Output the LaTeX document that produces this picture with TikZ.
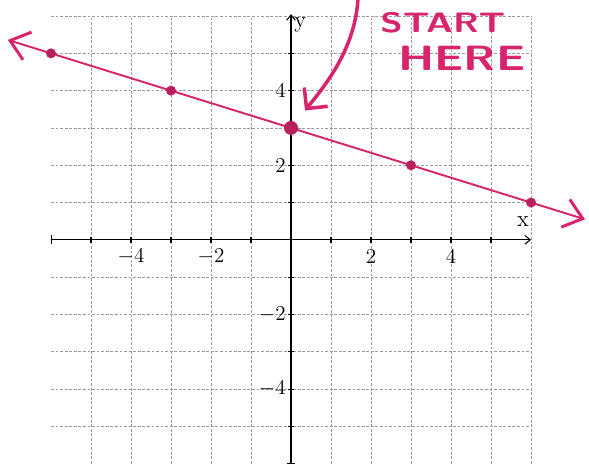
\documentclass[tikz,border=0pt]{standalone}
\usepackage{tikz}
\usetikzlibrary{arrows.meta}
\definecolor{marker}{HTML}{D8246C}
\definecolor{gridgray}{HTML}{9A9A9A}

\begin{document}
\begin{tikzpicture}[x=0.8cm,y=0.746cm,
  gridline/.style={gridgray,dash pattern=on 1.6pt off 1pt,line width=0.45pt},
  axisline/.style={black,line width=0.6pt},
  handline/.style={marker,line width=1.1pt,
    {Straight Barb[length=3.6mm,width=5.8mm,line width=1.7pt]}-{Straight Barb[length=3.6mm,width=5.8mm,line width=1.7pt]}},
  penarrow/.style={marker,line width=2pt,shorten >=3mm,
    -{Straight Barb[length=3mm,width=6mm,line width=2pt]}},
  dot/.style={circle,fill=marker!85!black,inner sep=0pt,minimum size=2mm},
  handtext/.style={marker,xscale=1.3,transform shape}]
  \useasboundingbox (-7.275,-6.06) rectangle (7.45,6.43);
  % grid
  \foreach \x in {-5,...,6}
    \draw[gridline] (\x,-6) -- (\x,6);
  \foreach \y in {-5,...,-1,1,2,...,6}
    \draw[gridline] (-6,\y) -- (6,\y);
  % axes
  \draw[axisline,{Bar[width=5pt]}-{Straight Barb[length=3pt,width=5pt]}] (-6,0) -- (6,0);
  \draw[axisline,{Bar[width=5pt]}-{Straight Barb[length=3pt,width=5pt]}] (0,-6) -- (0,6.05);
  \foreach \x in {-5,...,5}
    \draw[axisline] (\x,0.08) -- (\x,-0.08);
  \foreach \y in {-5,...,5}
    \draw[axisline] (-0.08,\y) -- (0.08,\y);
  \foreach \x in {-4,-2,2,4}
    \node[font=\fontsize{13}{15}\selectfont] (xl\x) at (\x,-0.46) {$\x$};
  \foreach \y in {-4,-2,2,4}
    \node[anchor=east,inner sep=1pt,font=\fontsize{13}{15}\selectfont] (yl\y) at (-0.08,\y) {$\y$};
  \node[font=\fontsize{13}{15}\selectfont] (xname) at (5.8,0.48) {x};
  \node[font=\fontsize{13}{15}\selectfont] (yname) at (0.23,5.76) {y};
  % the line y = 3 - x/3
  \coordinate (lineW) at (-7.08,5.36);
  \coordinate (lineE) at (7.35,0.55);
  \draw[handline] (lineW) -- (lineE);
  \foreach \x in {-6,-3,3,6}
    \node[dot] (pt\x) at (\x,{3-\x/3}) {};
  \node[dot,minimum size=2.8mm] (pt0) at (0,3) {};
  % note
  \node[handtext,font=\sffamily\bfseries\fontsize{16}{18}\selectfont] (start) at (3.8,5.82) {START};
  \node[handtext,font=\sffamily\bfseries\fontsize{20}{22}\selectfont] (here) at (4.27,4.86) {HERE};
  \coordinate (pen) at (1.68,6.6);
  \draw[penarrow] (pen) .. controls (1.65,5.2) and (0.9,4.2) .. (pt0);
\end{tikzpicture}
\end{document}
